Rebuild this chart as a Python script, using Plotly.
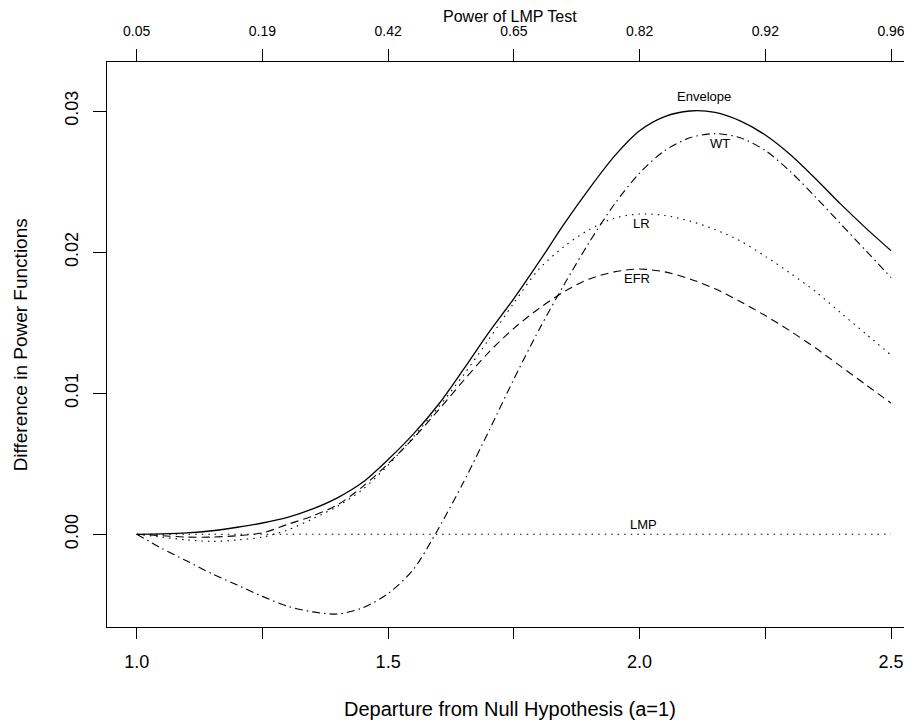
import plotly.graph_objects as go

# ---- data ----
departure = [1.00, 1.05, 1.10, 1.15, 1.20, 1.25, 1.30, 1.35, 1.40, 1.45,
             1.50, 1.55, 1.60, 1.65, 1.70, 1.75, 1.80, 1.85, 1.90, 1.95,
             2.00, 2.05, 2.10, 2.15, 2.20, 2.25, 2.30, 2.35, 2.40, 2.45, 2.50]

envelope = [0.0, 0.00003, 0.0001, 0.00025, 0.0005, 0.0008, 0.0012, 0.0018, 0.0026, 0.0037,
            0.0053, 0.0071, 0.0092, 0.0117, 0.0143, 0.0167, 0.0193, 0.0220, 0.0245, 0.0268,
            0.0286, 0.0296, 0.0300, 0.0299, 0.0293, 0.0283, 0.0269, 0.0252, 0.0234, 0.0217, 0.0201]

wt = [0.0, -0.0010, -0.0019, -0.0028, -0.0036, -0.0044, -0.0051, -0.0055, -0.00565, -0.0052,
      -0.0042, -0.0025, 0.0004, 0.0037, 0.0073, 0.0110, 0.0145, 0.0177, 0.0207, 0.0234,
      0.0256, 0.0272, 0.0281, 0.0284, 0.0281, 0.0272, 0.0257, 0.0239, 0.0220, 0.0201, 0.0182]

lr = [0.0, -0.0002, -0.0004, -0.0005, -0.0004, -0.0002, 0.0003, 0.0011, 0.0020, 0.0032,
      0.0049, 0.0069, 0.0090, 0.0113, 0.0138, 0.0164, 0.0188, 0.0204, 0.0216, 0.0224,
      0.0227, 0.0226, 0.0222, 0.0216, 0.0208, 0.0197, 0.0185, 0.0172, 0.0157, 0.0142, 0.0127]

efr = [0.0, -0.0001, -0.0002, -0.0002, -0.0001, 0.0001, 0.0007, 0.0013, 0.0021, 0.0034,
       0.0050, 0.0068, 0.0088, 0.0109, 0.0129, 0.0146, 0.0160, 0.0172, 0.0181, 0.0186,
       0.0188, 0.0186, 0.0181, 0.0174, 0.0165, 0.0155, 0.0144, 0.0132, 0.0119, 0.0106, 0.0093]

lmp = [0.0] * len(departure)

bottom_ticks = [1.0, 1.25, 1.5, 1.75, 2.0, 2.25, 2.5]
bottom_labels = ["1.0", "", "1.5", "", "2.0", "", "2.5"]
top_ticks = [1.0, 1.25, 1.5, 1.75, 2.0, 2.25, 2.5]
top_labels = ["0.05", "0.19", "0.42", "0.65", "0.82", "0.92", "0.96"]
y_ticks = [0.0, 0.01, 0.02, 0.03]
y_labels = ["0.00", "0.01", "0.02", "0.03"]

curve_labels = ["Envelope", "WT", "LR", "EFR", "LMP"]
curve_label_x = [2.129, 2.160, 2.004, 1.994, 2.007]
curve_label_y = [0.0310, 0.0277, 0.0220, 0.0181, 0.0007]

FONT = "Liberation Sans, Arial, Helvetica, sans-serif"
XR = [0.94094, 2.5417]
YR = [-0.00657, 0.033473]

fig = go.Figure()

def add(y, dash, width=1.1):
    fig.add_trace(go.Scatter(x=departure, y=y, mode="lines",
                             line=dict(color="black", width=width, dash=dash, shape="spline", smoothing=0.8),
                             showlegend=False, hoverinfo="skip"))

add(lmp, "1.5px,5px")
add(efr, "8px,5px")
add(lr, "1.5px,5px")
add(wt, "8px,4px,1.5px,4px")
add(envelope, "solid", 1.3)

# invisible trace to carry the top axis
fig.add_trace(go.Scatter(x=[], y=[], xaxis="x2", showlegend=False, hoverinfo="skip"))

for t, xx, yy in zip(curve_labels, curve_label_x, curve_label_y):
    fig.add_annotation(x=xx, y=yy, text=t, showarrow=False,
                       font=dict(family=FONT, size=13, color="black"),
                       xanchor="center", yanchor="middle")

fig.add_annotation(x=0.5, y=-0.145, xref="paper", yref="paper",
                   text="Departure from Null Hypothesis (a=1)", showarrow=False,
                   font=dict(family=FONT, size=20, color="black"),
                   xanchor="center", yanchor="middle")
fig.add_annotation(x=-0.107, y=0.5, xref="paper", yref="paper",
                   text="Difference in Power Functions", showarrow=False, textangle=-90,
                   font=dict(family=FONT, size=19, color="black"),
                   xanchor="center", yanchor="middle")
fig.add_annotation(x=0.5, y=1.0814, xref="paper", yref="paper",
                   text="Power of LMP Test", showarrow=False,
                   font=dict(family=FONT, size=16, color="black"),
                   xanchor="center", yanchor="middle")

# the page body adds an 8px offset; the figure is sized to fill the rest of the window
fig.update_layout(
    template="none",
    width=904, height=714,
    margin=dict(l=99, r=0, t=54, b=95, autoexpand=False),
    paper_bgcolor="white", plot_bgcolor="white",
    xaxis=dict(range=XR, tickvals=bottom_ticks, ticktext=bottom_labels, automargin=False,
               ticks="outside", ticklen=11, tickcolor="black", tickwidth=1,
               showline=True, linecolor="black", linewidth=1,
               showgrid=False, zeroline=False, ticklabelstandoff=7,
               tickfont=dict(family=FONT, size=18, color="black")),
    xaxis2=dict(range=XR, overlaying="x", side="top", anchor="y", automargin=False,
                tickvals=top_ticks, ticktext=top_labels,
                ticks="outside", ticklen=12, tickcolor="black", tickwidth=1,
                showline=True, linecolor="black", linewidth=1,
                showgrid=False, zeroline=False, ticklabelstandoff=7,
                tickfont=dict(family=FONT, size=14, color="black")),
    yaxis=dict(range=YR, tickvals=y_ticks, ticktext=y_labels, tickangle=-90, automargin=False,
               ticks="outside", ticklen=13, tickcolor="black", tickwidth=1,
               showline=True, linecolor="black", linewidth=1,
               showgrid=False, zeroline=False, ticklabelstandoff=8,
               tickfont=dict(family=FONT, size=18, color="black")),
)

fig.write_html("out.html")
